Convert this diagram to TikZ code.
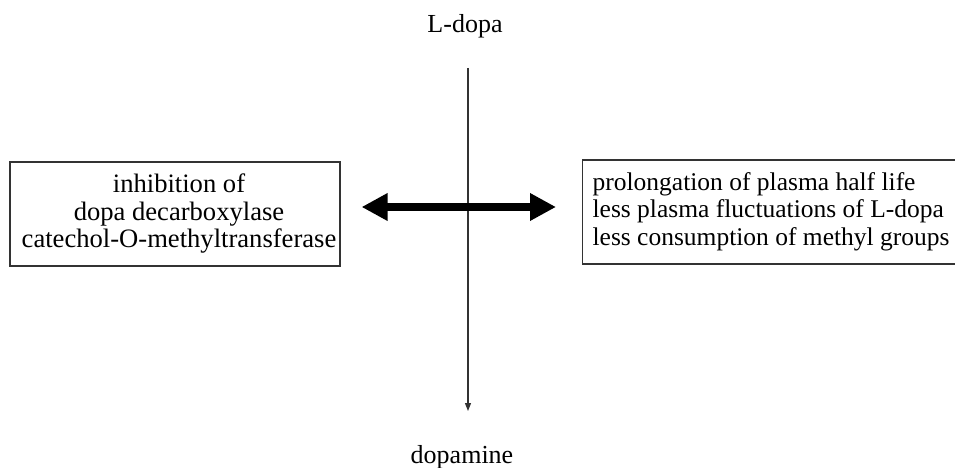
\documentclass[tikz,border=0pt]{standalone}
\usepackage{fontspec}
\setmainfont{Liberation Serif}
\usetikzlibrary{arrows.meta}
\begin{document}
\begin{tikzpicture}[x=1pt,y=-1pt,
  lbl/.style={font=\fontsize{26}{27.5}\selectfont, inner sep=0pt},
  infobox/.style={draw=black!80, line width=1.2pt, minimum height=104pt},
  thinarrow/.style={draw=black!80, line width=1.2pt, -{Triangle[length=8pt,width=6pt]}},
  bigarrow/.style={line width=8pt, {Triangle[length=26pt,width=26pt]}-{Triangle[length=26pt,width=26pt]}}]
\clip (0,0) rectangle (955,468);
\useasboundingbox (0,0) rectangle (955,468);
\node[lbl, anchor=base] (ldopa) at (465,33) {L-dopa};
\node[lbl, anchor=base] (dopamine) at (462,463) {dopamine};
\coordinate (vtop) at (468,68);
\coordinate (vbot) at (468,411);
\draw[thinarrow] (vtop) -- (vbot);
\node[infobox, minimum width=330pt, align=center, font=\fontsize{26.6}{27.5}\selectfont] (inhib) at (175,214)
  {\hspace*{8pt}inhibition of\\\hspace*{8pt}dopa decarboxylase\\\hspace*{8pt}catechol-O-methyltransferase};
\node[infobox, anchor=west, inner xsep=10pt, font=\fontsize{25.5}{27.5}\selectfont] (effects) at (582,212)
  {\renewcommand{\arraystretch}{1}\begin{tabular}{@{}l@{\hspace{20pt}}}prolongation of plasma half life\\less plasma fluctuations of L-dopa\\less consumption of methyl groups\end{tabular}};
\draw[bigarrow, shorten <=21pt, shorten >=26pt] (inhib.east |- 0,207) -- (effects.west |- 0,207);
\end{tikzpicture}
\end{document}
